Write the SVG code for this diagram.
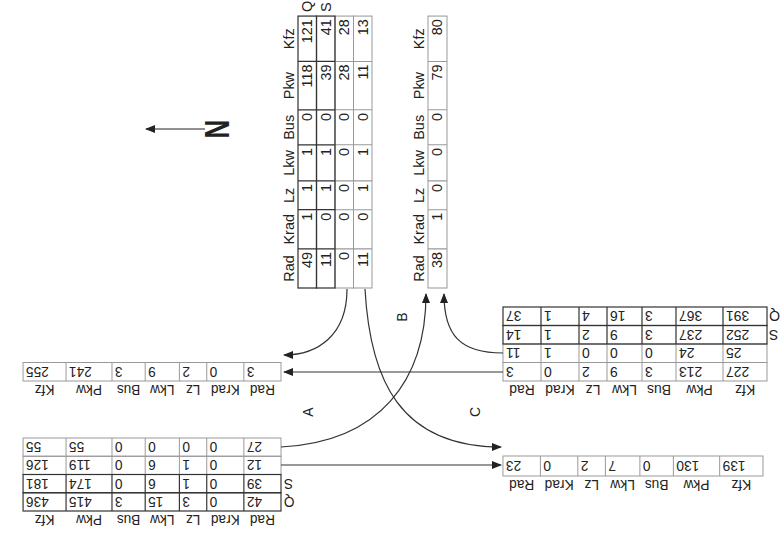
<svg xmlns="http://www.w3.org/2000/svg" width="780" height="535" viewBox="0 0 780 535">
<style>
.dk{fill:none;stroke:#333;stroke-width:1.2}
.lt{fill:none;stroke:#999;stroke-width:1}
.n{font-family:"Liberation Sans",Arial,sans-serif;font-size:14px;text-anchor:end;fill:#222}
.h{font-family:"Liberation Sans",Arial,sans-serif;font-size:14px;text-anchor:middle;fill:#222}
.q{font-family:"Liberation Sans",Arial,sans-serif;font-size:14px;fill:#222}
.c{fill:none;stroke:#333;stroke-width:1.2}
.lbl{font-family:"Liberation Sans",Arial,sans-serif;font-size:14px;text-anchor:middle;fill:#222}
</style>
<defs>
<marker id="ah" markerUnits="userSpaceOnUse" markerWidth="10" markerHeight="8" refX="9" refY="4" orient="auto">
<path d="M0,0 L10,4 L0,8 Z" fill="#222"/>
</marker>
</defs>
<rect width="780" height="535" fill="#fff"/>

<g id="north-arrow">
<line x1="205" y1="129" x2="146" y2="129" stroke="#222" stroke-width="1.2" marker-end="url(#ah)"/>
<text transform="translate(229,129) rotate(-90) scale(1,1.35)" x="0" y="0" font-family="Liberation Sans,Arial,sans-serif" font-weight="bold" font-size="26" text-anchor="middle" fill="#222">N</text>
</g>

<g id="north-in" transform="translate(298,288) rotate(-90) scale(1.03,1)">
<g class="h"><text x="19" y="-4">Rad</text><text x="57" y="-4">Krad</text><text x="90" y="-4">Lz</text><text x="121.5" y="-4">Lkw</text><text x="156" y="-4">Bus</text><text x="196.5" y="-4">Pkw</text><text x="242" y="-4">Kfz</text></g>
<rect class="lt" x="0" y="37" width="264" height="18.5"/><path class="lt" d="M38,37v18.5M76,37v18.5M104,37v18.5M139,37v18.5M173,37v18.5M220,37v18.5"/>
<rect class="lt" x="0" y="55.5" width="264" height="18.5"/><path class="lt" d="M38,55.5v18.5M76,55.5v18.5M104,55.5v18.5M139,55.5v18.5M173,55.5v18.5M220,55.5v18.5"/>
<rect class="dk" x="0" y="0" width="264" height="18.5"/><path class="dk" d="M38,0v18.5M76,0v18.5M104,0v18.5M139,0v18.5M173,0v18.5M220,0v18.5"/>
<rect class="dk" x="0" y="18.5" width="264" height="18.5"/><path class="dk" d="M38,18.5v18.5M76,18.5v18.5M104,18.5v18.5M139,18.5v18.5M173,18.5v18.5M220,18.5v18.5"/>
<g class="n">
<text x="35" y="14.25">49</text><text x="73" y="14.25">1</text><text x="101" y="14.25">1</text><text x="136" y="14.25">1</text><text x="170" y="14.25">0</text><text x="217" y="14.25">118</text><text x="261" y="14.25">121</text>
<text x="35" y="32.75">11</text><text x="73" y="32.75">0</text><text x="101" y="32.75">1</text><text x="136" y="32.75">1</text><text x="170" y="32.75">0</text><text x="217" y="32.75">39</text><text x="261" y="32.75">41</text>
<text x="35" y="51.25">0</text><text x="73" y="51.25">0</text><text x="101" y="51.25">0</text><text x="136" y="51.25">0</text><text x="170" y="51.25">0</text><text x="217" y="51.25">28</text><text x="261" y="51.25">28</text>
<text x="35" y="69.75">11</text><text x="73" y="69.75">0</text><text x="101" y="69.75">1</text><text x="136" y="69.75">1</text><text x="170" y="69.75">0</text><text x="217" y="69.75">11</text><text x="261" y="69.75">13</text>
</g>
<text class="q" x="268" y="14.25">Q</text><text class="q" x="268" y="32.75">S</text>
</g>

<g id="north-out" transform="translate(428,288) rotate(-90) scale(1.03,1)">
<g class="h"><text x="19" y="-4">Rad</text><text x="57" y="-4">Krad</text><text x="90" y="-4">Lz</text><text x="121.5" y="-4">Lkw</text><text x="156" y="-4">Bus</text><text x="196.5" y="-4">Pkw</text><text x="242" y="-4">Kfz</text></g>
<rect class="lt" x="0" y="0" width="264" height="19"/><path class="lt" d="M38,0v19M76,0v19M104,0v19M139,0v19M173,0v19M220,0v19"/>
<g class="n"><text x="35" y="14.5">38</text><text x="73" y="14.5">1</text><text x="101" y="14.5">0</text><text x="136" y="14.5">0</text><text x="170" y="14.5">0</text><text x="217" y="14.5">79</text><text x="261" y="14.5">80</text></g>
</g>

<g id="west-out" transform="translate(281,381) rotate(180) scale(0.977,1)">
<g class="h"><text x="19" y="-4">Rad</text><text x="57" y="-4">Krad</text><text x="90" y="-4">Lz</text><text x="121.5" y="-4">Lkw</text><text x="156" y="-4">Bus</text><text x="196.5" y="-4">Pkw</text><text x="242" y="-4">Kfz</text></g>
<rect class="lt" x="0" y="0" width="264" height="18.5"/><path class="lt" d="M38,0v18.5M76,0v18.5M104,0v18.5M139,0v18.5M173,0v18.5M220,0v18.5"/>
<g class="n"><text x="35" y="14.25">3</text><text x="73" y="14.25">0</text><text x="101" y="14.25">2</text><text x="136" y="14.25">9</text><text x="170" y="14.25">3</text><text x="217" y="14.25">241</text><text x="261" y="14.25">255</text></g>
</g>

<g id="west-in" transform="translate(281,511) rotate(180) scale(0.977,1)">
<g class="h"><text x="19" y="-4">Rad</text><text x="57" y="-4">Krad</text><text x="90" y="-4">Lz</text><text x="121.5" y="-4">Lkw</text><text x="156" y="-4">Bus</text><text x="196.5" y="-4">Pkw</text><text x="242" y="-4">Kfz</text></g>
<rect class="lt" x="0" y="36.5" width="264" height="18.25"/><path class="lt" d="M38,36.5v18.25M76,36.5v18.25M104,36.5v18.25M139,36.5v18.25M173,36.5v18.25M220,36.5v18.25"/>
<rect class="lt" x="0" y="54.75" width="264" height="18.25"/><path class="lt" d="M38,54.75v18.25M76,54.75v18.25M104,54.75v18.25M139,54.75v18.25M173,54.75v18.25M220,54.75v18.25"/>
<rect class="dk" x="0" y="0" width="264" height="18.25"/><path class="dk" d="M38,0v18.25M76,0v18.25M104,0v18.25M139,0v18.25M173,0v18.25M220,0v18.25"/>
<rect class="dk" x="0" y="18.25" width="264" height="18.25"/><path class="dk" d="M38,18.25v18.25M76,18.25v18.25M104,18.25v18.25M139,18.25v18.25M173,18.25v18.25M220,18.25v18.25"/>
<g class="n">
<text x="35" y="14.1">42</text><text x="73" y="14.1">0</text><text x="101" y="14.1">3</text><text x="136" y="14.1">15</text><text x="170" y="14.1">3</text><text x="217" y="14.1">415</text><text x="261" y="14.1">436</text>
<text x="35" y="32.4">39</text><text x="73" y="32.4">0</text><text x="101" y="32.4">1</text><text x="136" y="32.4">6</text><text x="170" y="32.4">0</text><text x="217" y="32.4">174</text><text x="261" y="32.4">181</text>
<text x="35" y="50.6">12</text><text x="73" y="50.6">0</text><text x="101" y="50.6">1</text><text x="136" y="50.6">6</text><text x="170" y="50.6">0</text><text x="217" y="50.6">119</text><text x="261" y="50.6">126</text>
<text x="35" y="68.9">27</text><text x="73" y="68.9">0</text><text x="101" y="68.9">0</text><text x="136" y="68.9">0</text><text x="170" y="68.9">0</text><text x="217" y="68.9">55</text><text x="261" y="68.9">55</text>
</g>
<text class="q" x="-3" y="14.1" text-anchor="end">Q</text><text class="q" x="-3" y="32.4" text-anchor="end">S</text>
</g>

<g id="east-in" transform="translate(767,381) rotate(180)">
<g class="h"><text x="22" y="-4">Kfz</text><text x="67.5" y="-4">Pkw</text><text x="108" y="-4">Bus</text><text x="142.5" y="-4">Lkw</text><text x="174" y="-4">Lz</text><text x="207" y="-4">Krad</text><text x="245" y="-4">Rad</text></g>
<rect class="lt" x="0" y="0" width="264" height="18.5"/><path class="lt" d="M44,0v18.5M91,0v18.5M125,0v18.5M160,0v18.5M188,0v18.5M226,0v18.5"/>
<rect class="lt" x="0" y="18.5" width="264" height="18.5"/><path class="lt" d="M44,18.5v18.5M91,18.5v18.5M125,18.5v18.5M160,18.5v18.5M188,18.5v18.5M226,18.5v18.5"/>
<rect class="dk" x="0" y="37" width="264" height="18.5"/><path class="dk" d="M44,37v18.5M91,37v18.5M125,37v18.5M160,37v18.5M188,37v18.5M226,37v18.5"/>
<rect class="dk" x="0" y="55.5" width="264" height="18.5"/><path class="dk" d="M44,55.5v18.5M91,55.5v18.5M125,55.5v18.5M160,55.5v18.5M188,55.5v18.5M226,55.5v18.5"/>
<g class="n">
<text x="41" y="14.25">227</text><text x="88" y="14.25">213</text><text x="122" y="14.25">3</text><text x="157" y="14.25">9</text><text x="185" y="14.25">2</text><text x="223" y="14.25">0</text><text x="261" y="14.25">3</text>
<text x="41" y="32.75">25</text><text x="88" y="32.75">24</text><text x="122" y="32.75">0</text><text x="157" y="32.75">0</text><text x="185" y="32.75">0</text><text x="223" y="32.75">1</text><text x="261" y="32.75">11</text>
<text x="41" y="51.25">252</text><text x="88" y="51.25">237</text><text x="122" y="51.25">3</text><text x="157" y="51.25">9</text><text x="185" y="51.25">2</text><text x="223" y="51.25">1</text><text x="261" y="51.25">14</text>
<text x="41" y="69.75">391</text><text x="88" y="69.75">367</text><text x="122" y="69.75">3</text><text x="157" y="69.75">16</text><text x="185" y="69.75">4</text><text x="223" y="69.75">1</text><text x="261" y="69.75">37</text>
</g>
<text class="q" x="-2" y="69.75" text-anchor="end">Q</text><text class="q" x="-2" y="51.25" text-anchor="end">S</text>
</g>

<g id="east-out" transform="translate(763,476) rotate(180) scale(0.985,1)">
<g class="h"><text x="22" y="-4">Kfz</text><text x="67.5" y="-4">Pkw</text><text x="108" y="-4">Bus</text><text x="142.5" y="-4">Lkw</text><text x="174" y="-4">Lz</text><text x="207" y="-4">Krad</text><text x="245" y="-4">Rad</text></g>
<rect class="lt" x="0" y="0" width="264" height="20"/><path class="lt" d="M44,0v20M91,0v20M125,0v20M160,0v20M188,0v20M226,0v20"/>
<g class="n"><text x="41" y="15">139</text><text x="88" y="15">130</text><text x="122" y="15">0</text><text x="157" y="15">7</text><text x="185" y="15">2</text><text x="223" y="15">0</text><text x="261" y="15">23</text></g>
</g>

<g id="connectors">
<path class="c" d="M347,289 C347,335 318,355 284,355" marker-end="url(#ah)"/>
<path class="c" d="M365,289 C370,380 400,447 501,447" marker-end="url(#ah)"/>
<path class="c" d="M503,353 C460,353 444,335 444,294" marker-end="url(#ah)"/>
<path class="c" d="M503,372 L284,372" marker-end="url(#ah)"/>
<path class="c" d="M281,447 C380,442 426,380 426,294" marker-end="url(#ah)"/>
<path class="c" d="M281,465 L501,465" marker-end="url(#ah)"/>
</g>

<g id="labels">
<text class="lbl" transform="translate(313,412) rotate(-90)">A</text>
<text class="lbl" transform="translate(407,317) rotate(-90)">B</text>
<text class="lbl" transform="translate(480,412) rotate(-90)">C</text>
</g>
</svg>
